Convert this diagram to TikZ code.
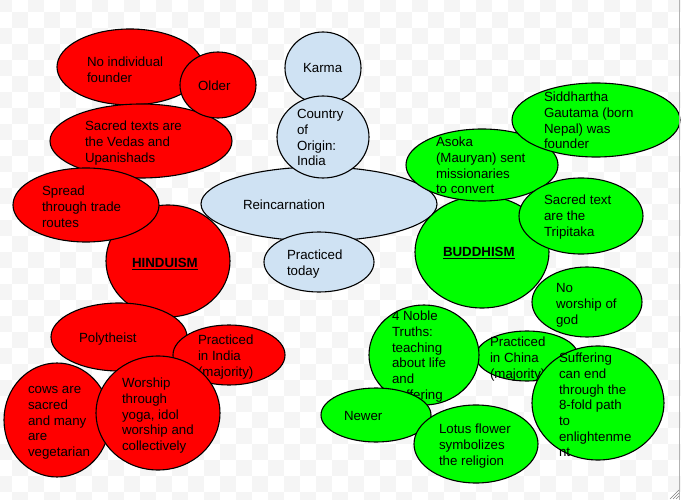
\documentclass[tikz,border=0pt]{standalone}
\usepackage{fontspec}
\setmainfont{Liberation Sans}
\usetikzlibrary{shapes.geometric}
\definecolor{hindred}{RGB}{255,0,0}
\definecolor{budgreen}{RGB}{0,255,0}
\definecolor{comblue}{RGB}{207,226,243}
\definecolor{checkgray}{RGB}{245,245,245}
\tikzset{
  blobshape/.style={ellipse, draw=black, line width=1.1pt, inner sep=0pt, outer sep=0pt},
  hin/.style={blobshape, fill=hindred},
  bud/.style={blobshape, fill=budgreen},
  com/.style={blobshape, fill=comblue},
  txt/.style={anchor=north west, inner sep=0pt, outer sep=0pt, align=left,
    font=\fontsize{13.3}{15.7}\selectfont, text=black},
}
% name, cx, cy, width, height, style, text x, first line y, text
\newcommand\blob[9]{%
  \node[#6, minimum width=#4pt, minimum height=#5pt] (#1) at (#2,#3) {};
  \node[txt] (#1t) at (#7,#8-5.3) {\rule{0pt}{10pt}#9};
}
\begin{document}
\begin{tikzpicture}[x=1pt,y=-1pt]
\useasboundingbox (0,0) rectangle (681,500);
\fill[white] (0,0) rectangle (681,500);
\begin{scope}
\clip (0,0) rectangle (681,500);
\foreach \i in {0,...,43}{
  \foreach \j in {0,...,31}{
    \pgfmathtruncatemacro\chk{mod(\i+\j,2)}
    \ifnum\chk=0
      \fill[checkgray] (-4+16*\i,-4+16*\j) rectangle ++(16,16);
    \fi
  }
}
\end{scope}
% Hinduism
\blob{noind}{130}{67}{146}{76}{hin}{87}{62}{No individual\\founder}
\blob{vedas}{141}{141}{182}{74}{hin}{85}{126}{Sacred texts are\\the Vedas and\\Upanishads}
\blob{older}{218}{85}{76}{66}{hin}{198}{86}{Older}
\blob{hindu}{168}{261}{124}{112}{hin}{132}{263}{\textbf{\underline{HINDUISM}}}
\blob{spread}{86}{205}{146}{74}{hin}{42}{191}{Spread\\through trade\\routes}
\blob{poly}{119}{337}{136}{68}{hin}{79}{338}{Polytheist}
\blob{india}{229}{355}{112}{60}{hin}{198}{340}{Practiced\\in India\\(majority)}
\blob{cows}{57}{420}{106}{114}{hin}{28}{389}{cows are\\sacred\\and many\\are\\vegetarian}
\blob{worship}{158}{413}{124}{114}{hin}{122}{383}{Worship\\through\\yoga, idol\\worship and\\collectively}
% Buddhism centre
\blob{buddha}{482}{252}{134}{112}{bud}{443}{252}{\textbf{\underline{BUDDHISM}}}
% Common
\blob{karma}{323}{68}{76}{72}{com}{303}{68}{Karma}
\blob{reinc}{319}{204}{236}{74}{com}{243}{205}{Reincarnation}
\blob{origin}{323}{137}{92}{82}{com}{297}{114}{Country\\of\\Origin:\\India}
\blob{today}{319}{262}{110}{60}{com}{287}{255}{Practiced\\today}
% Buddhism
\blob{asoka}{482}{165}{152}{72}{bud}{436}{142}{Asoka\\(Mauryan) sent\\missionaries\\to convert}
\blob{sidd}{596}{120}{168}{74}{bud}{544}{97}{Siddhartha\\Gautama (born\\Nepal) was\\founder}
\blob{tripi}{581}{216}{124}{76}{bud}{544}{200}{Sacred text\\are the\\Tripitaka}
\blob{nogod}{587}{302}{110}{70}{bud}{556}{288}{No\\worship of\\god}
\blob{china}{527}{356}{102}{50}{bud}{490}{342}{Practiced\\in China\\(majority)}
\blob{noble}{424}{355}{110}{100}{bud}{392}{316}{4 Noble\\Truths:\\teaching\\about life\\and\\suffering}
\blob{suffer}{598}{403}{132}{114}{bud}{559}{358}{Suffering\\can end\\through the\\8-fold path\\to\\enlightenme\\nt}
\blob{newer}{376}{415}{110}{54}{bud}{344}{416}{Newer}
\blob{lotus}{476}{444}{124}{78}{bud}{439}{429}{Lotus flower\\symbolizes\\the religion}
% window edge and resize grip
\draw[gray!60, line width=0.8pt] (679.5,0) -- (679.5,500);
\draw[gray, line width=0.6pt] (670,499) -- (679,490) (673,499) -- (679,493) (676,499) -- (679,496);
\end{tikzpicture}
\end{document}
